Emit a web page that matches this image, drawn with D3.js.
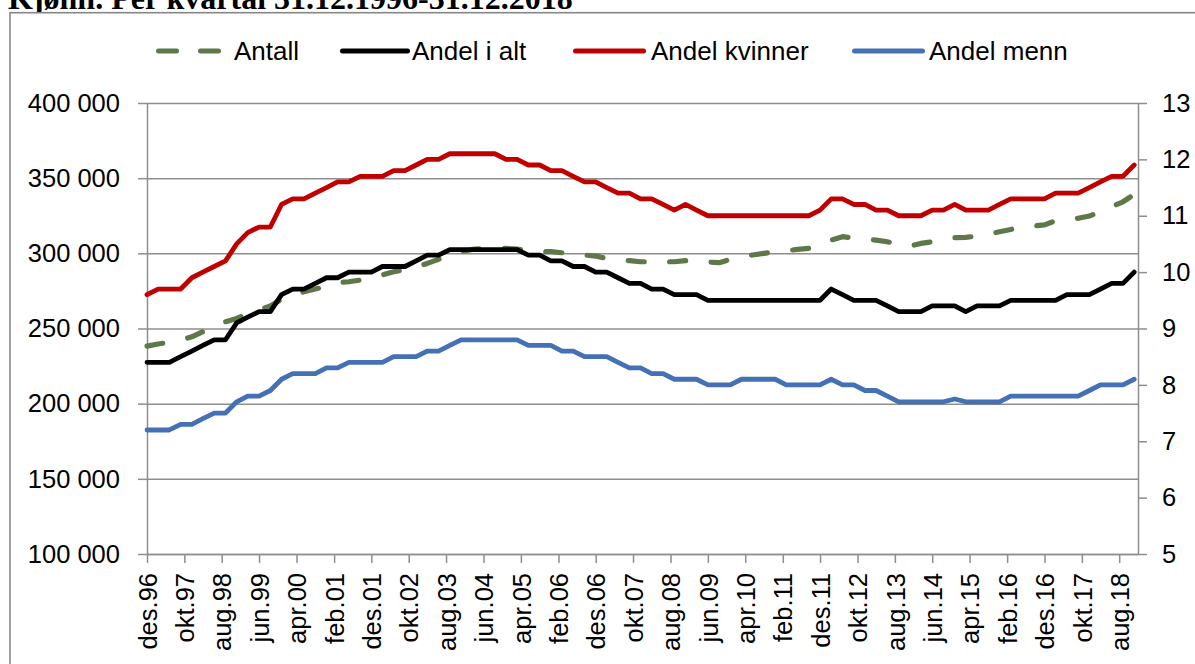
<!DOCTYPE html>
<html>
<head>
<meta charset="utf-8">
<script src="https://cdn.jsdelivr.net/npm/d3@7"></script>
<style>
body { margin: 0; background: #fff; }
text { font-family: "Liberation Sans", Arial, sans-serif; fill: #000; }
</style>
</head>
<body>
<svg id="chart" width="1195" height="664"></svg>
<script>
// quarterly values 31.12.1996 - 31.12.2018
const antall = [238300, 239700, 240800, 242300, 244500, 247900, 250800, 254500, 256700, 260100,
    262300, 265000, 269400, 272300, 274500, 276300, 277800, 280500, 281100, 282200,
    283300, 285600, 287700, 289300, 291100, 293300, 296000, 298900, 301100, 302600,
    303300, 303300, 303300, 302900, 301700, 301100, 301100, 300400, 299500, 298900,
    298200, 296600, 295500, 295100, 294400, 294400, 294400, 294400, 295100, 295100,
    294200, 293800, 296000, 298200, 298900, 300000, 301100, 301700, 302600, 303300,
    306200, 308800, 311100, 310200, 309300, 308800, 307700, 306000, 304800, 306600,
    307700, 309900, 310400, 310600, 311500, 312600, 314400, 315900, 317700, 318200,
    318900, 321700, 322600, 323300, 324800, 327700, 331000, 334300, 339200]

const andelIAlt = [8.4, 8.4, 8.4, 8.5, 8.6, 8.7, 8.8, 8.8, 9.1, 9.2,
    9.3, 9.3, 9.6, 9.7, 9.7, 9.8, 9.9, 9.9, 10.0, 10.0,
    10.0, 10.1, 10.1, 10.1, 10.2, 10.3, 10.3, 10.4, 10.4, 10.4,
    10.4, 10.4, 10.4, 10.4, 10.3, 10.3, 10.2, 10.2, 10.1, 10.1,
    10.0, 10.0, 9.9, 9.8, 9.8, 9.7, 9.7, 9.6, 9.6, 9.6,
    9.5, 9.5, 9.5, 9.5, 9.5, 9.5, 9.5, 9.5, 9.5, 9.5,
    9.5, 9.7, 9.6, 9.5, 9.5, 9.5, 9.4, 9.3, 9.3, 9.3,
    9.4, 9.4, 9.4, 9.3, 9.4, 9.4, 9.4, 9.5, 9.5, 9.5,
    9.5, 9.5, 9.6, 9.6, 9.6, 9.7, 9.8, 9.8, 10.0]

const andelKvinner = [9.6, 9.7, 9.7, 9.7, 9.9, 10.0, 10.1, 10.2, 10.5, 10.7,
    10.8, 10.8, 11.2, 11.3, 11.3, 11.4, 11.5, 11.6, 11.6, 11.7,
    11.7, 11.7, 11.8, 11.8, 11.9, 12.0, 12.0, 12.1, 12.1, 12.1,
    12.1, 12.1, 12.0, 12.0, 11.9, 11.9, 11.8, 11.8, 11.7, 11.6,
    11.6, 11.5, 11.4, 11.4, 11.3, 11.3, 11.2, 11.1, 11.2, 11.1,
    11.0, 11.0, 11.0, 11.0, 11.0, 11.0, 11.0, 11.0, 11.0, 11.0,
    11.1, 11.3, 11.3, 11.2, 11.2, 11.1, 11.1, 11.0, 11.0, 11.0,
    11.1, 11.1, 11.2, 11.1, 11.1, 11.1, 11.2, 11.3, 11.3, 11.3,
    11.3, 11.4, 11.4, 11.4, 11.5, 11.6, 11.7, 11.7, 11.9]

const andelMenn = [7.2, 7.2, 7.2, 7.3, 7.3, 7.4, 7.5, 7.5, 7.7, 7.8,
    7.8, 7.9, 8.1, 8.2, 8.2, 8.2, 8.3, 8.3, 8.4, 8.4,
    8.4, 8.4, 8.5, 8.5, 8.5, 8.6, 8.6, 8.7, 8.8, 8.8,
    8.8, 8.8, 8.8, 8.8, 8.7, 8.7, 8.7, 8.6, 8.6, 8.5,
    8.5, 8.5, 8.4, 8.3, 8.3, 8.2, 8.2, 8.1, 8.1, 8.1,
    8.0, 8.0, 8.0, 8.1, 8.1, 8.1, 8.1, 8.0, 8.0, 8.0,
    8.0, 8.1, 8.0, 8.0, 7.9, 7.9, 7.8, 7.7, 7.7, 7.7,
    7.7, 7.7, 7.75, 7.7, 7.7, 7.7, 7.7, 7.8, 7.8, 7.8,
    7.8, 7.8, 7.8, 7.8, 7.9, 8.0, 8.0, 8.0, 8.1]

const xTickLabels = ['des.96', 'okt.97', 'aug.98', 'jun.99', 'apr.00', 'feb.01', 'des.01',
    'okt.02', 'aug.03', 'jun.04', 'apr.05', 'feb.06', 'des.06', 'okt.07', 'aug.08',
    'jun.09', 'apr.10', 'feb.11', 'des.11', 'okt.12', 'aug.13', 'jun.14', 'apr.15',
    'feb.16', 'des.16', 'okt.17', 'aug.18']
const leftTicks = [100000, 150000, 200000, 250000, 300000, 350000, 400000]
const rightTicks = [5, 6, 7, 8, 9, 10, 11, 12, 13]

const title = 'Kjønn. Per kvartal 31.12.1996-31.12.2018'

let start = new Date(1996, 11, 1)
let quarters = antall.map((d, i) => d3.timeMonth.offset(start, 3 * i))
let tickDates = xTickLabels.map((d, i) => d3.timeMonth.offset(start, 10 * i))

let plotLeft = 147, plotRight = 1138, plotTop = 103, plotBottom = 554
let gridColor = '#8e8e8e'

let x = d3.scaleTime()
    .domain([start, new Date(2019, 0, 1)])
    .range([plotLeft, plotRight])
let yLeft = d3.scaleLinear().domain([100000, 400000]).range([plotBottom, plotTop])
let yRight = d3.scaleLinear().domain([5, 13]).range([plotBottom, plotTop])

let svg = d3.select('#chart')

svg.append('text')
    .attr('x', 8)
    .attr('y', 9)
    .style('font-family', '"Liberation Serif", "Times New Roman", serif')
    .style('font-weight', 'bold')
    .style('font-size', '32px')
    .text(title)

// chart frame
svg.append('rect')
    .attr('x', 10)
    .attr('y', 12.7)
    .attr('width', 1200)
    .attr('height', 700)
    .attr('fill', '#fff')
    .attr('stroke', '#868686')
    .attr('stroke-width', 1.6)

// gridlines
svg.append('g')
    .attr('transform', `translate(${plotLeft},0)`)
    .call(d3.axisLeft(yLeft).tickValues(leftTicks).tickSize(-(plotRight - plotLeft)).tickFormat(''))
    .call(g => g.select('.domain').remove())
    .selectAll('line')
    .attr('stroke', gridColor)
    .attr('stroke-width', 1.5)

let styleAxis = (g) => {
    g.select('.domain').attr('stroke', gridColor).attr('stroke-width', 1.5)
    g.selectAll('.tick line').attr('stroke', gridColor).attr('stroke-width', 1.5)
    g.selectAll('text').style('font-size', '25.5px').attr('fill', '#000')
}

svg.append('g')
    .attr('transform', `translate(${plotLeft},0)`)
    .call(d3.axisLeft(yLeft).tickValues(leftTicks).tickSize(9).tickSizeOuter(0).tickPadding(18)
        .tickFormat(d => d3.format(',')(d).replace(/,/g, ' ')))
    .call(styleAxis)

svg.append('g')
    .attr('transform', `translate(${plotRight},0)`)
    .call(d3.axisRight(yRight).tickValues(rightTicks).tickSize(9).tickSizeOuter(0).tickPadding(15))
    .call(styleAxis)

let xAxis = svg.append('g')
    .attr('transform', `translate(0,${plotBottom})`)
    .call(d3.axisBottom(x).tickValues(tickDates).tickSize(9).tickSizeOuter(0)
        .tickFormat((d, i) => xTickLabels[i]))
    .call(styleAxis)

xAxis.selectAll('text')
    .attr('text-anchor', 'end')
    .attr('transform', 'translate(0,19) rotate(-90)')
    .attr('x', 0)
    .attr('y', 0)
    .attr('dy', '0.36em')

// series
let series = [
    { name: 'Antall', values: antall, scale: yLeft, color: '#5f784a', dash: '16 25.5' },
    { name: 'Andel i alt', values: andelIAlt, scale: yRight, color: '#000000', dash: null },
    { name: 'Andel kvinner', values: andelKvinner, scale: yRight, color: '#c00000', dash: null },
    { name: 'Andel menn', values: andelMenn, scale: yRight, color: '#4470b5', dash: null }
]

series.forEach((s) => {
    let line = d3.line()
        .x((d, i) => x(quarters[i]))
        .y(d => s.scale(d))
    svg.append('path')
        .datum(s.values)
        .attr('d', line)
        .attr('fill', 'none')
        .attr('stroke', s.color)
        .attr('stroke-width', s.dash ? 5.2 : 4.8)
        .attr('stroke-linejoin', 'round')
        .attr('stroke-linecap', 'round')
        .attr('stroke-dasharray', s.dash)
})

// legend
let legendPos = [
    { x0: 158.5, x1: 218.5, tx: 234 },
    { x0: 342.5, x1: 407.5, tx: 412 },
    { x0: 575.5, x1: 643.5, tx: 651 },
    { x0: 854.5, x1: 922.5, tx: 929 }
]
let legendY = 51

let legend = svg.append('g')
    .selectAll('g')
    .data(series)
    .enter()
    .append('g')

legend.append('line')
    .attr('x1', (s, i) => legendPos[i].x0)
    .attr('x2', (s, i) => legendPos[i].x1)
    .attr('y1', legendY)
    .attr('y2', legendY)
    .attr('stroke', s => s.color)
    .attr('stroke-width', 5)
    .attr('stroke-linecap', 'round')
    .attr('stroke-dasharray', s => s.dash ? '18 24' : null)

legend.append('text')
    .attr('x', (s, i) => legendPos[i].tx)
    .attr('y', legendY)
    .attr('dy', '0.36em')
    .style('font-size', '26px')
    .text(s => s.name)
</script>
</body>
</html>
